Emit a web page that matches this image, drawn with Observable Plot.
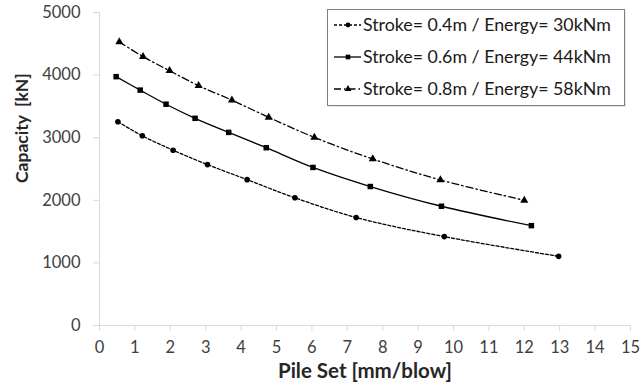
<!DOCTYPE html>
<html>
<head>
<meta charset="utf-8">
<script src="https://cdn.jsdelivr.net/npm/d3@7"></script>
<script src="https://cdn.jsdelivr.net/npm/@observablehq/plot@0.6"></script>
<style>
  html, body { margin: 0; padding: 0; background: #fff; }
  #wrap { position: relative; width: 640px; height: 392px; }
  #legend { position: absolute; left: 0; top: 0; pointer-events: none; }
  svg { font-family: Lato, "Open Sans", sans-serif; }
</style>
</head>
<body>
<div id="wrap"></div>
<script>
// ---- data ----
const seriesNames = [
  "Stroke= 0.4m / Energy= 30kNm",
  "Stroke= 0.6m / Energy= 44kNm",
  "Stroke= 0.8m / Energy= 58kNm"
];
const set04 = [0.52, 1.21, 2.08, 3.05, 4.17, 5.52, 7.25, 9.74, 12.97];
const cap04 = [3255, 3030, 2800, 2570, 2330, 2040, 1725, 1420, 1105];
const set06 = [0.47, 1.15, 1.88, 2.70, 3.65, 4.71, 6.03, 7.65, 9.66, 12.2];
const cap06 = [3975, 3760, 3535, 3310, 3085, 2840, 2525, 2220, 1905, 1595];
const set08 = [0.56, 1.23, 1.98, 2.80, 3.74, 4.78, 6.07, 7.72, 9.63, 12.0];
const cap08 = [4530, 4295, 4070, 3830, 3600, 3325, 3005, 2660, 2325, 2000];
const xTicks = [0,1,2,3,4,5,6,7,8,9,10,11,12,13,14,15];
const yTicks = [0,1000,2000,3000,4000,5000];
const xLabel = "Pile Set [mm/blow]";
const yLabel = "Capacity  [kN]";

const toRows = (xs, ys, s) => xs.map((x, i) => ({x, y: ys[i], s}));
const d04 = toRows(set04, cap04, seriesNames[0]);
const d06 = toRows(set06, cap06, seriesNames[1]);
const d08 = toRows(set08, cap08, seriesNames[2]);

const styles = [
  {dash: "3,2", symbol: "circle", r: 2.8},
  {dash: null, symbol: "square", r: 3.1},
  {dash: "7,3,1.5,3", symbol: "triangle", r: 3.0}
];
const allData = [d04, d06, d08];
const ink = "#404040";

const marks = [
  Plot.axisY({ticks: yTicks, tickSize: 6, tickPadding: 13, stroke: "#d9d9d9", color: ink, fontSize: 16.5, label: null, tickFormat: d => String(d)}),
  Plot.axisX({ticks: xTicks, tickSize: 6, tickPadding: 10, stroke: "#d9d9d9", color: ink, fontSize: 16.5, label: null}),
  Plot.ruleX([0], {stroke: "#d9d9d9"}),
  Plot.ruleY([0], {stroke: "#d9d9d9"}),
  Plot.text([xLabel], {frameAnchor: "bottom", dy: 52, fontSize: 20.5, fontWeight: "bold", fill: "#262626"}),
  Plot.text([yLabel], {frameAnchor: "left", dx: -77, dy: 14, rotate: -90, fontSize: 17.5, fontWeight: "bold", fill: "#262626"})
];
allData.forEach((d, i) => {
  marks.push(Plot.line(d, {x: "x", y: "y", curve: "catmull-rom", stroke: "#000", strokeWidth: 1.3, strokeDasharray: styles[i].dash}));
  marks.push(Plot.dot(d, {x: "x", y: "y", symbol: styles[i].symbol, r: styles[i].r, fill: "#000", stroke: "none"}));
});

const chart = Plot.plot({
  width: 640,
  height: 392,
  marginLeft: 99,
  marginRight: 10,
  marginTop: 12,
  marginBottom: 67,
  x: {domain: [0, 15]},
  y: {domain: [0, 5000]},
  style: {fontFamily: "Lato, 'Open Sans', sans-serif", background: "#fff"},
  marks
});
document.getElementById("wrap").appendChild(chart);

// ---- legend overlay ----
const lg = d3.select("#wrap").append("svg")
  .attr("id", "legend").attr("width", 640).attr("height", 392);
lg.append("rect").attr("x", 329).attr("y", 11).attr("width", 297).attr("height", 96)
  .attr("fill", "#e6e6e6");
lg.append("rect").attr("x", 327.5).attr("y", 9.5).attr("width", 297).attr("height", 96)
  .attr("fill", "#fff").attr("stroke", "#7f7f7f").attr("stroke-width", 1);
const symGen = {circle: d3.symbolCircle, square: d3.symbolSquare, triangle: d3.symbolTriangle};
seriesNames.forEach((name, i) => {
  const cy = 25 + i * 32;
  const g = lg.append("g");
  g.append("line").attr("x1", 334).attr("x2", 361).attr("y1", cy).attr("y2", cy)
    .attr("stroke", "#000").attr("stroke-width", 1.3)
    .attr("stroke-dasharray", styles[i].dash);
  const r = styles[i].r * 0.85;
  g.append("path").attr("d", d3.symbol(symGen[styles[i].symbol], Math.PI * r * r)())
    .attr("transform", `translate(${348},${cy})`).attr("fill", "#000");
  g.append("text").attr("x", 363).attr("y", cy).attr("dy", "0.35em")
    .attr("font-size", 17.8).attr("fill", "#1a1a1a").text(name);
});
</script>
</body>
</html>
